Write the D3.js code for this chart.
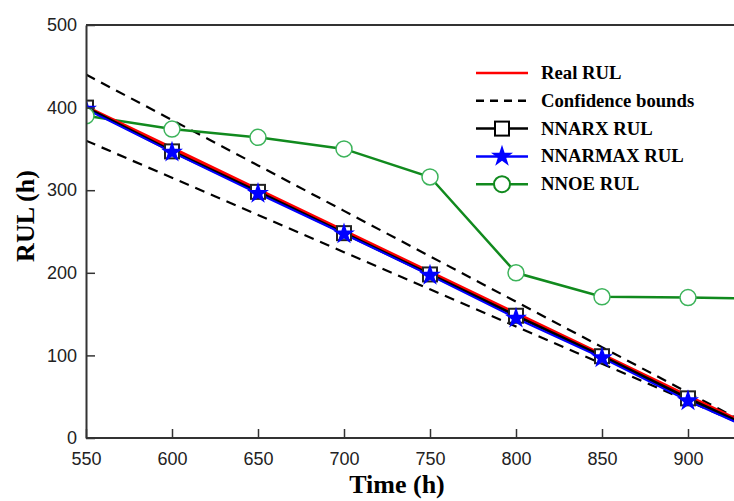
<!DOCTYPE html>
<html>
<head>
<meta charset="utf-8">
<title>RUL prediction</title>
<script src="https://cdn.jsdelivr.net/npm/d3@7"></script>
<style>
  body { margin: 0; background: white; }
  svg { display: block; }
</style>
</head>
<body>
<script>
// data
let hours = [550, 600, 650, 700, 750, 800, 850, 900, 930]
let realRUL = [400, 350, 300, 250, 200, 150, 100, 50, 20]
let upperBound = [440, 385, 330, 275, 220, 165, 110, 55, 22]
let lowerBound = [360, 315, 270, 225, 180, 135, 90, 45, 18]
let nnarxRUL = [400, 347, 298, 248, 198, 148, 99, 48, 19]
let nnarmaxRUL = [398, 346, 296, 247, 197, 145, 97, 45, 17]
let nnoeRUL = [390, 374, 364, 350, 316, 200, 171, 170, 169]
let markerHours = [550, 600, 650, 700, 750, 800, 850, 900]
let xTicks = [550, 600, 650, 700, 750, 800, 850, 900]
let yTicks = [0, 100, 200, 300, 400, 500]
let legendNames = ['Real RUL', 'Confidence bounds', 'NNARX RUL', 'NNARMAX RUL', 'NNOE RUL']

let width = 734
let height = 501
let padLeft = 86, padTop = 25, padBottom = 438

let svg = d3.select('body').append('svg')
    .attr('width', width)
    .attr('height', height)

let x = d3.scaleLinear().domain([550, 950]).range([padLeft, padLeft + 400 * 1.72])
let y = d3.scaleLinear().domain([0, 500]).range([padBottom, padTop])

svg.append('clipPath').attr('id', 'plot')
    .append('rect')
    .attr('x', padLeft).attr('y', padTop)
    .attr('width', width - padLeft).attr('height', padBottom - padTop)

let pts = (vals) => hours.map((h, i) => [h, vals[i]])
let line = d3.line().x(d => x(d[0])).y(d => y(d[1]))

let g = svg.append('g').attr('clip-path', 'url(#plot)')

let starPath = d3.symbol().type(d3.symbolStar).size(150)()

// confidence bounds
;[upperBound, lowerBound].forEach(b => {
    g.append('path')
        .attr('d', line(pts(b)))
        .attr('fill', 'none')
        .attr('stroke', 'black')
        .attr('stroke-width', 2.2)
        .attr('stroke-dasharray', '10,7')
})

// NNOE
g.append('path')
    .attr('d', line(pts(nnoeRUL)))
    .attr('fill', 'none')
    .attr('stroke', '#118a1e')
    .attr('stroke-width', 2.5)

// real
g.append('path')
    .attr('d', line(pts(realRUL)))
    .attr('fill', 'none')
    .attr('stroke', '#ff0000')
    .attr('stroke-width', 4.5)

// NNARX
g.append('path')
    .attr('d', line(pts(nnarxRUL)))
    .attr('fill', 'none')
    .attr('stroke', 'black')
    .attr('stroke-width', 3)

// NNARMAX
g.append('path')
    .attr('d', line(pts(nnarmaxRUL)))
    .attr('fill', 'none')
    .attr('stroke', '#0000ff')
    .attr('stroke-width', 2)

let markerData = (vals) => markerHours.map(h => [h, vals[hours.indexOf(h)]])

g.selectAll('.sq').data(markerData(nnarxRUL)).enter()
    .append('rect').attr('class', 'sq')
    .attr('x', d => x(d[0]) - 7)
    .attr('y', d => y(d[1]) - 7)
    .attr('width', 14).attr('height', 14)
    .attr('fill', 'white')
    .attr('stroke', '#222')
    .attr('stroke-width', 2)

g.selectAll('.star').data(markerData(nnarmaxRUL)).enter()
    .append('path').attr('class', 'star')
    .attr('d', starPath)
    .attr('transform', d => `translate(${x(d[0])},${y(d[1])})`)
    .attr('fill', '#0000ff')

g.selectAll('.circ').data(markerData(nnoeRUL)).enter()
    .append('circle').attr('class', 'circ')
    .attr('cx', d => x(d[0]))
    .attr('cy', d => y(d[1]))
    .attr('r', 8)
    .attr('fill', 'white')
    .attr('stroke', '#3cb35a')
    .attr('stroke-width', 1.5)

// axes
let axisColor = '#333'
svg.append('line')
    .attr('x1', padLeft).attr('x2', width)
    .attr('y1', padTop).attr('y2', padTop)
    .attr('stroke', axisColor).attr('stroke-width', 2)

let xAxis = svg.append('g')
    .attr('transform', `translate(0,${padBottom})`)
    .call(d3.axisBottom(x).tickValues(xTicks).tickSizeInner(-9).tickSizeOuter(0).tickPadding(14))
xAxis.select('.domain').attr('stroke', axisColor).attr('stroke-width', 2)
    .attr('d', `M${padLeft},0H${width}`)
xAxis.selectAll('.tick line').attr('stroke', axisColor).attr('stroke-width', 1.5)
xAxis.selectAll('.tick text')
    .attr('font-family', '"Liberation Sans", Arial, sans-serif')
    .attr('font-size', 18)
    .attr('fill', '#222')

let yAxis = svg.append('g')
    .attr('transform', `translate(${padLeft},0)`)
    .call(d3.axisLeft(y).tickValues(yTicks).tickSizeInner(-9).tickSizeOuter(0).tickPadding(9))
yAxis.select('.domain').attr('stroke', axisColor).attr('stroke-width', 2)
yAxis.selectAll('.tick line').attr('stroke', axisColor).attr('stroke-width', 1.5)
yAxis.selectAll('.tick text')
    .attr('font-family', '"Liberation Sans", Arial, sans-serif')
    .attr('font-size', 18)
    .attr('fill', '#222')

// titles
svg.append('text')
    .attr('x', 397).attr('y', 493)
    .attr('text-anchor', 'middle')
    .attr('font-family', '"Liberation Serif", "Times New Roman", serif')
    .attr('font-weight', 'bold')
    .attr('font-size', 26)
    .text('Time (h)')

svg.append('text')
    .attr('transform', 'translate(34,216) rotate(-90)')
    .attr('text-anchor', 'middle')
    .attr('font-family', '"Liberation Serif", "Times New Roman", serif')
    .attr('font-weight', 'bold')
    .attr('font-size', 26)
    .text('RUL (h)')

// legend
let legend = svg.append('g').attr('id', 'legend')
let rowY = (i) => 73 + i * 27.8
let lx1 = 476, lx2 = 528, lmid = 502

legend.append('line').attr('x1', lx1).attr('x2', lx2).attr('y1', rowY(0)).attr('y2', rowY(0))
    .attr('stroke', '#ff0000').attr('stroke-width', 2.5)
legend.append('line').attr('x1', lx1).attr('x2', lx2).attr('y1', rowY(1)).attr('y2', rowY(1))
    .attr('stroke', 'black').attr('stroke-width', 2.5).attr('stroke-dasharray', '8,6')
legend.append('line').attr('x1', lx1).attr('x2', lx2).attr('y1', rowY(2)).attr('y2', rowY(2))
    .attr('stroke', 'black').attr('stroke-width', 2.5)
legend.append('rect').attr('x', lmid - 7).attr('y', rowY(2) - 7).attr('width', 14).attr('height', 14)
    .attr('fill', 'white').attr('stroke', 'black').attr('stroke-width', 2)
legend.append('line').attr('x1', lx1).attr('x2', lx2).attr('y1', rowY(3)).attr('y2', rowY(3))
    .attr('stroke', '#0000ff').attr('stroke-width', 2.5)
legend.append('path').attr('d', starPath)
    .attr('transform', `translate(${lmid},${rowY(3)})`).attr('fill', '#0000ff')
legend.append('line').attr('x1', lx1).attr('x2', lx2).attr('y1', rowY(4)).attr('y2', rowY(4))
    .attr('stroke', '#118a1e').attr('stroke-width', 2.5)
legend.append('circle').attr('cx', lmid).attr('cy', rowY(4)).attr('r', 8)
    .attr('fill', 'white').attr('stroke', '#118a1e').attr('stroke-width', 2)

legend.selectAll('.ltext').data(legendNames).enter()
    .append('text').attr('class', 'ltext')
    .attr('x', 541)
    .attr('y', (d, i) => rowY(i) + 6)
    .attr('font-family', '"Liberation Serif", "Times New Roman", serif')
    .attr('font-weight', 'bold')
    .attr('font-size', 18.7)
    .text(d => d)
</script>
</body>
</html>
